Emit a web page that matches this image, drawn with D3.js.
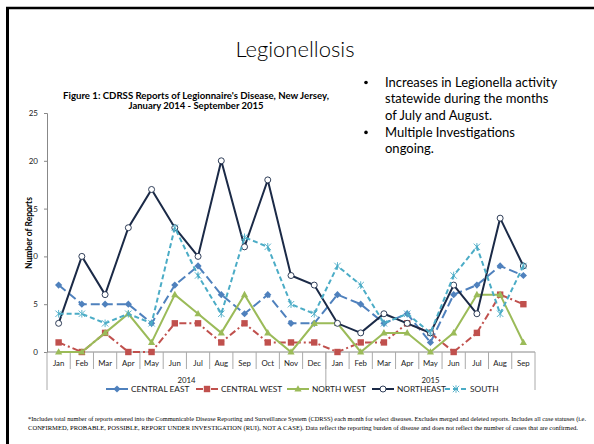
<!DOCTYPE html>
<html>
<head>
<meta charset="utf-8">
<script src="https://cdn.jsdelivr.net/npm/d3@7"></script>
<style>
  body { margin: 0; background: #fff; }
  text { font-family: Lato, "Open Sans", sans-serif; }
</style>
</head>
<body>
<div id="chart"></div>
<script>
// data
const months = ["Jan","Feb","Mar","Apr","May","Jun","Jul","Aug","Sep","Oct","Nov","Dec",
                "Jan","Feb","Mar","Apr","May","Jun","Jul","Aug","Sep"];
const years = [{label: "2014", from: 0, to: 12}, {label: "2015", from: 12, to: 21}];
const yTicks = [0, 5, 10, 15, 20, 25];

const centralEast = [7,5,5,5,3,7,9,6,4,6,3,3, 6,5,3,4,1,6,7,9,8];
const centralWest = [1,0,2,0,0,3,3,1,3,1,1,1, 0,1,1,3,2,0,2,6,5];
const northWest   = [0,0,2,4,1,6,4,2,6,2,0,3, 3,0,2,2,0,2,6,6,1];
const northEast   = [3,10,6,13,17,13,10,20,11,18,8,7, 3,2,4,3,2,7,4,14,9];
const south       = [4,4,3,4,3,13,8,4,12,11,5,4, 9,7,3,4,2,8,11,4,9];

const bullets = [
  ["Increases in Legionella activity", "statewide  during the months", "of July and August."],
  ["Multiple Investigations", "ongoing."]
];

const series = [
  {name: "CENTRAL EAST", values: centralEast, color: "#4F81BD", dash: "9,4", marker: "diamond"},
  {name: "CENTRAL WEST", values: centralWest, color: "#C0504D", dash: "7,3,2,3", marker: "square"},
  {name: "NORTH WEST",   values: northWest,   color: "#9BBB59", dash: null, marker: "triangle"},
  {name: "NORTHEAST",    values: northEast,   color: "#1B2A47", dash: null, marker: "circle"},
  {name: "SOUTH",        values: south,       color: "#4BACC6", dash: "5,3", marker: "star"}
];

const width = 594, height = 444;
const margin = {top: 113, left: 47, right: 59, bottom: 92};

const svg = d3.select("#chart").append("svg")
  .attr("width", width).attr("height", height);

/* SLIDE FRAME */
svg.append("line").attr("x1", 7.5).attr("x2", 7.5).attr("y1", 7).attr("y2", height)
  .attr("stroke", "#000").attr("stroke-width", 3);
svg.append("line").attr("x1", 6).attr("x2", width).attr("y1", 8).attr("y2", 8)
  .attr("stroke", "#000").attr("stroke-width", 2.5);

/* TITLE */
svg.append("text").attr("x", 295).attr("y", 57).attr("text-anchor", "middle")
  .style("font-size", "22px").style("font-weight", 300).text("Legionellosis");

/* BULLETS */
let by = 87;
bullets.forEach(function(lines) {
  svg.append("circle").attr("cx", 366).attr("cy", by - 4.5).attr("r", 1.8).attr("fill", "#000");
  lines.forEach(function(l) {
    svg.append("text").attr("x", 385).attr("y", by).style("font-size", "13px").text(l);
    by += 16.3;
  });
  by += 1;
});

/* CHART TITLE */
svg.append("text").attr("x", 196).attr("y", 99).attr("text-anchor", "middle")
  .style("font-size", "8.8px").style("font-weight", "bold")
  .attr("textLength", 266).attr("lengthAdjust", "spacingAndGlyphs")
  .text("Figure 1: CDRSS Reports of Legionnaire's  Disease, New Jersey,");
svg.append("text").attr("x", 196).attr("y", 109).attr("text-anchor", "middle")
  .style("font-size", "8.8px").style("font-weight", "bold")
  .attr("textLength", 135).attr("lengthAdjust", "spacingAndGlyphs")
  .text("January 2014 - September 2015");

/* SCALES */
const xScale = d3.scaleBand().domain(d3.range(months.length))
  .range([margin.left, width - margin.right]);
const yScale = d3.scaleLinear().domain([0, 25])
  .range([352, margin.top]);

/* Y AXIS */
const yAxis = svg.append("g").attr("transform", `translate(${margin.left},0)`)
  .call(d3.axisLeft(yScale).tickValues(yTicks).tickSize(3).tickPadding(6));
yAxis.select(".domain").attr("stroke", "#888");
yAxis.selectAll(".tick line").attr("stroke", "#888");
yAxis.selectAll("text").style("font-size", "8px").style("font-family", "Lato, sans-serif").attr("fill", "#222");

svg.append("text").attr("transform", "rotate(-90)")
  .attr("x", -233).attr("y", 32).attr("text-anchor", "middle")
  .style("font-size", "8.5px").style("font-weight", "bold")
  .text("Number of Reports");

/* X AXIS */
const x0 = xScale.range()[0], x1 = xScale.range()[1];
svg.append("line").attr("x1", x0).attr("x2", x1).attr("y1", 352).attr("y2", 352)
  .attr("stroke", "#888");
svg.selectAll(".msep").data(d3.range(1, months.length)).enter().append("line")
  .attr("x1", d => xScale(d)).attr("x2", d => xScale(d))
  .attr("y1", 352).attr("y2", 369).attr("stroke", "#aaa");
svg.selectAll(".mlab").data(months).enter().append("text")
  .attr("x", (d, i) => xScale(i) + xScale.bandwidth() / 2)
  .attr("y", 366).attr("text-anchor", "middle")
  .style("font-size", "7.8px").attr("fill", "#222").text(d => d);
const yearEdges = [0, 12, 21];
svg.selectAll(".ysep").data(yearEdges).enter().append("line")
  .attr("x1", d => d < months.length ? xScale(d) : x1)
  .attr("x2", d => d < months.length ? xScale(d) : x1)
  .attr("y1", 352).attr("y2", 390).attr("stroke", "#aaa");
svg.selectAll(".ylab").data(years).enter().append("text")
  .attr("x", d => ((d.from === 0 ? x0 : xScale(d.from)) + (d.to < months.length ? xScale(d.to) : x1)) / 2)
  .attr("y", 383).attr("text-anchor", "middle")
  .style("font-size", "7.8px").attr("fill", "#222").text(d => d.label);

/* LINES */
const cx = i => xScale(i) + xScale.bandwidth() / 2;
const line = d3.line().x((d, i) => cx(i)).y(d => yScale(d));

function drawMarker(g, type, x, y, color) {
  if (type === "diamond") {
    g.append("path").attr("d", `M${x},${y-3.6}L${x+3.6},${y}L${x},${y+3.6}L${x-3.6},${y}Z`).attr("fill", color);
  } else if (type === "square") {
    g.append("rect").attr("x", x - 3.2).attr("y", y - 3.2).attr("width", 6.4).attr("height", 6.4).attr("fill", color);
  } else if (type === "triangle") {
    g.append("path").attr("d", `M${x},${y-3.8}L${x+3.6},${y+2.6}L${x-3.6},${y+2.6}Z`).attr("fill", color);
  } else if (type === "circle") {
    g.append("circle").attr("cx", x).attr("cy", y).attr("r", 3).attr("fill", "#fff")
      .attr("stroke", color).attr("stroke-width", 0.9);
  } else if (type === "star") {
    const r = 3.2;
    g.append("path")
      .attr("d", `M${x-r},${y-r}L${x+r},${y+r}M${x-r},${y+r}L${x+r},${y-r}M${x},${y-r-0.6}L${x},${y+r+0.6}`)
      .attr("stroke", color).attr("stroke-width", 0.9).attr("fill", "none");
  }
}

series.forEach(function(s) {
  const g = svg.append("g");
  g.append("path").datum(s.values).attr("d", line)
    .attr("fill", "none").attr("stroke", s.color).attr("stroke-width", 2)
    .attr("stroke-dasharray", s.dash);
  s.values.forEach((v, i) => drawMarker(g, s.marker, cx(i), yScale(v), s.color));
});

/* LEGEND */
const legendX = [106, 196, 287, 372, 445];
series.forEach(function(s, i) {
  const g = svg.append("g").attr("transform", `translate(${legendX[i]},389)`);
  g.append("line").attr("x1", 0).attr("x2", 22).attr("y1", 0).attr("y2", 0)
    .attr("stroke", s.color).attr("stroke-width", 2).attr("stroke-dasharray", s.dash);
  drawMarker(g, s.marker, 11, 0, s.color);
  g.append("text").attr("x", 25).attr("y", 3).style("font-size", "8.3px").attr("fill", "#222").text(s.name);
});

/* FOOTNOTE */
svg.append("text").attr("x", 28).attr("y", 421)
  .style("font-family", "'Liberation Serif', serif").style("font-size", "5.2px")
  .attr("textLength", 558).attr("lengthAdjust", "spacingAndGlyphs")
  .text("*Includes total number of reports entered into the Communicable Disease Reporting and Surveillance System (CDRSS) each month for select diseases. Excludes merged and deleted reports. Includes all case statuses (i.e.");
svg.append("text").attr("x", 28).attr("y", 430)
  .style("font-family", "'Liberation Serif', serif").style("font-size", "5.2px")
  .attr("textLength", 550).attr("lengthAdjust", "spacingAndGlyphs")
  .text("CONFIRMED, PROBABLE, POSSIBLE, REPORT UNDER INVESTIGATION  (RUI), NOT A CASE). Data reflect the reporting burden of disease and does not reflect the number of cases that are confirmed.");
</script>
</body>
</html>
